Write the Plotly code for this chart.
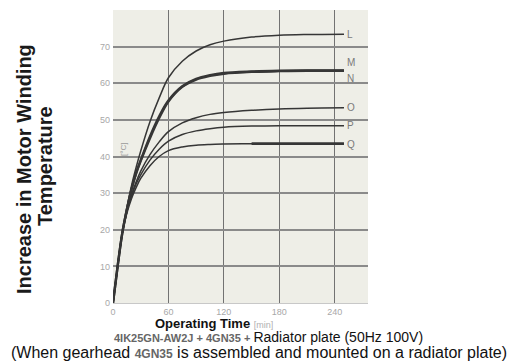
import plotly.graph_objects as go

# ---- data ----
time_min = [0, 5, 10, 15, 20, 25, 30, 40, 50, 60, 75, 90, 105, 120, 150, 180, 210, 250]
curve_L = [0, 10, 19, 26, 32, 37, 41.5, 49.5, 56, 61.5, 66, 68.8, 70.5, 71.5, 72.6, 73.1, 73.3, 73.4]
curve_M = [0, 10, 19, 25.5, 31, 35.5, 39, 45.5, 51, 55.3, 59.2, 61.2, 62.2, 62.8, 63.2, 63.4, 63.5, 63.5]
curve_N = [0, 10, 19, 25.5, 31, 35.3, 38.8, 45, 50.5, 55, 59, 61, 62, 62.6, 63.1, 63.3, 63.4, 63.4]
curve_O = [0, 10, 19, 25, 29.5, 33, 36, 40.5, 44, 46.8, 49.2, 50.6, 51.5, 52.0, 52.6, 53.0, 53.2, 53.3]
curve_P = [0, 10, 19, 25, 29, 32.5, 35, 39, 42, 44.2, 46, 47, 47.6, 48, 48.3, 48.4, 48.4, 48.4]
curve_Q = [0, 10, 19, 24.5, 28.5, 31.5, 34, 37.5, 40, 41.6, 42.6, 43.1, 43.3, 43.4, 43.5, 43.5, 43.5, 43.5]
q_thick_time = [150, 180, 210, 250]
q_thick_vals = [43.5, 43.5, 43.5, 43.5]

curve_names = ["L", "M", "N", "O", "P", "Q"]
label_y = [73.3, 65.7, 61.4, 53.3, 48.4, 43.3]
x_ticks = [0, 60, 120, 180, 240]
y_ticks = [0, 10, 20, 30, 40, 50, 60, 70]

series = [curve_L, curve_M, curve_N, curve_O, curve_P, curve_Q]
widths = [1.5, 2.4, 2.4, 1.5, 1.5, 1.5]

FONT = "Liberation Sans, Arial"


def px_x(px):
    return (px - 113) / 255


def px_y(py):
    return (303 - py) / 293


fig = go.Figure()
for name, vals, w in zip(curve_names, series, widths):
    fig.add_trace(go.Scatter(x=time_min, y=vals, mode="lines", name=name,
                             line=dict(color="#363636", width=w, shape="spline", smoothing=1.0),
                             showlegend=False, hoverinfo="skip"))
fig.add_trace(go.Scatter(x=q_thick_time, y=q_thick_vals, mode="lines",
                         line=dict(color="#363636", width=2.8), showlegend=False, hoverinfo="skip"))

for name, ly in zip(curve_names, label_y):
    fig.add_annotation(x=251, y=ly, xref="x", yref="y", text=name, showarrow=False,
                       xanchor="left", yanchor="middle",
                       font=dict(family=FONT, size=10, color="#7a7a7a"))

# y-axis title (two lines placed separately for exact line pitch)
fig.add_annotation(x=px_x(24), y=px_y(169), xref="paper", yref="paper",
                   text="<b>Increase in Motor Winding</b>", textangle=-90,
                   showarrow=False, xanchor="center", yanchor="middle",
                   font=dict(family=FONT, size=20, color="#1a1a1a"))
fig.add_annotation(x=px_x(45), y=px_y(166), xref="paper", yref="paper",
                   text="<b>Temperature</b>", textangle=-90,
                   showarrow=False, xanchor="center", yanchor="middle",
                   font=dict(family=FONT, size=20, color="#1a1a1a"))
fig.add_annotation(x=px_x(123), y=px_y(150), xref="paper", yref="paper",
                   text="[°C]", textangle=-90, showarrow=False, xanchor="center", yanchor="middle",
                   font=dict(family=FONT, size=8, color="#9a9a9a"))

fig.add_annotation(x=px_x(214), y=px_y(323), xref="paper", yref="paper",
                   text="<b>Operating Time</b> <span style='color:#b0b0b0;font-size:9px'>[min]</span>",
                   showarrow=False, xanchor="center", yanchor="middle",
                   font=dict(family=FONT, size=13, color="#111"))
fig.add_annotation(x=px_x(268), y=px_y(337), xref="paper", yref="paper",
                   text="<b><span style='color:#666;font-size:11px'>4IK25GN-AW2J + 4GN35 + </span></b>Radiator plate (50Hz 100V)",
                   showarrow=False, xanchor="center", yanchor="middle",
                   font=dict(family=FONT, size=14, color="#111"))
fig.add_annotation(x=px_x(259), y=px_y(352), xref="paper", yref="paper",
                   text="(When gearhead <b><span style='color:#666;font-size:12px'>4GN35</span></b> is assembled and mounted on a radiator plate)",
                   showarrow=False, xanchor="center", yanchor="middle",
                   font=dict(family=FONT, size=16, color="#111"))

fig.update_xaxes(range=[0, 276], tickvals=x_ticks, showgrid=True, gridcolor="#727272", gridwidth=1.2,
                 zeroline=False, showline=True, linecolor="#c8c8c8", linewidth=1, ticks="",
                 tickfont=dict(family=FONT, size=9, color="#a8a8a8"))
fig.update_yaxes(range=[0, 80], tickvals=y_ticks, showgrid=True, gridcolor="#8a8a8a", gridwidth=2,
                 zeroline=False, showline=False, ticks="", ticklabelstandoff=2,
                 tickfont=dict(family=FONT, size=9, color="#a8a8a8"))

fig.update_layout(width=520, height=362, margin=dict(l=113, r=152, t=10, b=59),
                  paper_bgcolor="white", plot_bgcolor="#eeeee7", showlegend=False)

fig.write_html("out.html", config={"displayModeBar": False},
               post_script="document.body.style.margin='0';")
